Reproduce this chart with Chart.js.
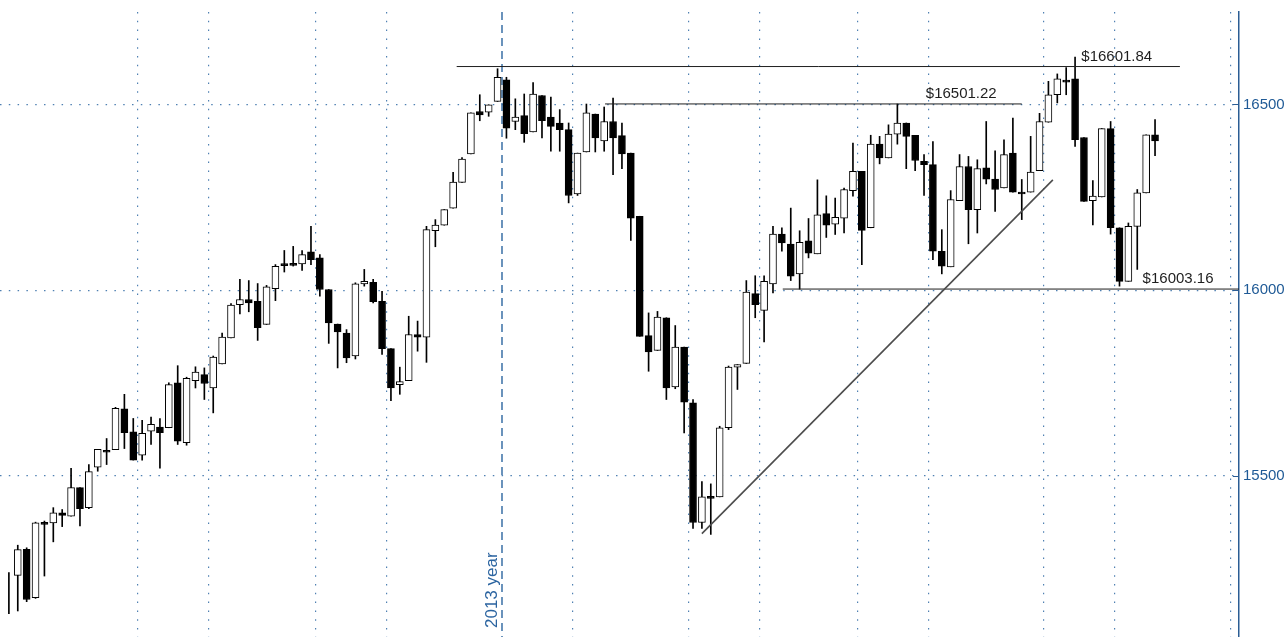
<!DOCTYPE html>
<html>
<head>
<meta charset="utf-8">
<title>Candles</title>
<script src="https://cdn.jsdelivr.net/npm/chart.js@4.4.1/dist/chart.umd.min.js"></script>
<style>
    html, body { margin: 0; padding: 0; background: #ffffff; }
    #chart_box { position: relative; width: 1287px; height: 637px; }
</style>
</head>
<body>
<div id="chart_box"><canvas id="candle_chart"></canvas></div>
<script>
// one candle per index, first one shows only its wick
const opens = [null,
    15233, 15303, 15173, 15374, 15374, 15401, 15392, 15469, 15415,
    15524, 15569, 15571, 15681, 15619, 15556, 15621, 15632, 15630, 15751,
    15590, 15757, 15773, 15737, 15802, 15872, 15961, 15975, 15970, 15908,
    16004, 16071, 16070, 16071, 16103, 16087, 16002, 15909, 15885, 15823,
    16017, 16021, 15970, 15843, 15746, 15757, 15881, 15874, 16160, 16175,
    16221, 16290, 16367, 16481, 16479, 16508, 16566, 16454, 16470, 16426,
    16524, 16466, 16450, 16432, 16259, 16372, 16474, 16402, 16454, 16416,
    16369, 16199, 15878, 15838, 15926, 15740, 15847, 15697, 15375, 15445,
    15444, 15630, 15793, 15803, 15991, 15946, 16017, 16151, 16124, 16044,
    16133, 16098, 16206, 16178, 16194, 16268, 16320, 16168, 16393, 16356,
    16420, 16450, 16417, 16347, 16338, 16105, 16063, 16241, 16333, 16217,
    16329, 16299, 16275, 16369, 16264, 16264, 16322, 16452, 16526, 16564,
    16569, 16411, 16241, 16251, 16435, 16168, 16024, 16172, 16262, 16418];
const highs = [15240,
    15314, 15307, 15376, 15379, 15415, 15410, 15521, 15469, 15531,
    15572, 15601, 15685, 15720, 15655, 15650, 15659, 15655, 15751, 15797,
    15766, 15794, 15791, 15823, 15885, 15964, 16029, 16026, 16018, 16013,
    16069, 16107, 16118, 16107, 16172, 16096, 16002, 15909, 15894, 16020,
    16056, 16029, 15997, 15843, 15793, 15930, 15917, 16172, 16190, 16217,
    16317, 16357, 16477, 16526, 16499, 16596, 16573, 16515, 16528, 16559,
    16524, 16520, 16486, 16450, 16369, 16501, 16474, 16493, 16517, 16450,
    16369, 16199, 15939, 15943, 15926, 15905, 15847, 15706, 15485, 15479,
    15634, 15796, 15800, 16026, 16039, 16039, 16172, 16168, 16221, 16160,
    16193, 16297, 16254, 16248, 16275, 16396, 16320, 16417, 16414, 16445,
    16501, 16450, 16417, 16365, 16400, 16163, 16268, 16365, 16360, 16351,
    16454, 16375, 16405, 16463, 16298, 16414, 16476, 16562, 16582, 16599,
    16627, 16411, 16295, 16435, 16454, 16168, 16181, 16271, 16418, 16459];
const lows = [15130,
    15137, 15162, 15171, 15231, 15323, 15364, 15392, 15366, 15412,
    15513, 15531, 15571, 15574, 15543, 15543, 15585, 15521, 15630, 15585,
    15583, 15737, 15706, 15670, 15802, 15872, 15936, 15942, 15865, 15908,
    15972, 16049, 16065, 16053, 16069, 15984, 15857, 15791, 15805, 15815,
    16011, 15966, 15827, 15703, 15720, 15757, 15836, 15806, 16117, 16175,
    16221, 16290, 16367, 16456, 16468, 16508, 16409, 16432, 16398, 16426,
    16410, 16374, 16374, 16235, 16255, 16372, 16372, 16374, 16311, 16327,
    16134, 15876, 15782, 15838, 15706, 15735, 15616, 15359, 15359, 15343,
    15444, 15625, 15733, 15803, 15926, 15861, 15993, 16105, 16026, 16003,
    16087, 16098, 16142, 16150, 16154, 16253, 16069, 16168, 16340, 16356,
    16393, 16327, 16322, 16255, 16082, 16044, 16063, 16241, 16125, 16154,
    16286, 16212, 16275, 16264, 16190, 16264, 16322, 16452, 16504, 16526,
    16387, 16239, 16176, 16251, 16151, 16011, 16024, 16056, 16262, 16362];
const closes = [null,
    15302, 15168, 15374, 15370, 15401, 15394, 15469, 15412, 15512,
    15572, 15564, 15682, 15617, 15543, 15615, 15639, 15617, 15746, 15594,
    15763, 15780, 15749, 15820, 15874, 15960, 15975, 15966, 15899, 16009,
    16064, 16066, 16067, 16096, 16082, 16002, 15912, 15888, 15818, 16017,
    16024, 15969, 15843, 15737, 15754, 15881, 15874, 16163, 16175, 16217,
    16291, 16353, 16477, 16472, 16499, 16573, 16436, 16466, 16421, 16528,
    16456, 16441, 16432, 16255, 16369, 16477, 16410, 16454, 16410, 16367,
    16194, 15876, 15834, 15928, 15737, 15847, 15699, 15375, 15444, 15440,
    15630, 15793, 15800, 15995, 15961, 16024, 16151, 16127, 16038, 16129,
    16100, 16203, 16175, 16196, 16271, 16320, 16161, 16393, 16356, 16420,
    16450, 16414, 16349, 16338, 16105, 16065, 16244, 16333, 16217, 16327,
    16299, 16271, 16365, 16264, 16259, 16318, 16454, 16526, 16569, 16560,
    16405, 16239, 16253, 16435, 16168, 16024, 16172, 16262, 16418, 16402];

const y_ticks = [15500, 16000, 16500];
const x_grid_at = [14.5, 22.5, 34.5, 42.5, 63.5, 76.5, 84.5, 95.5, 103.5, 116.5, 124.5, 137.5];
const year_break_at = 55.5;
const year_label = "2013 year";

const level_values = [16601.84, 16501.22, 16003.16];
const level_from = [50.4, 67.1, 87.1];
const level_to = [131.8, 114.0, 138.45];
const level_label_at = [120.7, 103.2, 127.6];

const trend_x = [78.0, 117.5];
const trend_y = [15345, 16297];

const axis_colour = "#2b5d94";
const grid_colour = "#4f80b2";

Chart.defaults.font.family = "'Liberation Sans', Arial, sans-serif";

let body_data = [];
let wick_data = [];
let body_colours = [];
for (let i = 0; i < highs.length; i++) {
    wick_data.push({x: i, y: [lows[i], highs[i]]});
    if (opens[i] === null) {
        body_data.push({x: i, y: null});
        body_colours.push("#ffffff");
    } else {
        body_data.push({x: i, y: [opens[i], closes[i]]});
        body_colours.push(closes[i] >= opens[i] ? "#ffffff" : "#000000");
    }
}

let datasets = [];
datasets.push({
    type: "line",
    data: trend_x.map((x, i) => ({x: x, y: trend_y[i]})),
    borderColor: "#4d4d4d",
    borderWidth: 1.6,
    pointRadius: 0
});
for (let i = 0; i < level_values.length; i++) {
    datasets.push({
        type: "line",
        data: [{x: level_from[i], y: level_values[i]}, {x: level_to[i], y: level_values[i]}],
        borderColor: "#1e1e1e",
        borderWidth: 1,
        pointRadius: 0
    });
}
datasets.push({
    type: "bar",
    data: body_data,
    backgroundColor: body_colours,
    borderColor: "#000000",
    borderWidth: 1,
    borderSkipped: false,
    barThickness: 7,
    minBarLength: 2,
    grouped: false
});
datasets.push({
    type: "bar",
    data: wick_data,
    backgroundColor: "#000000",
    borderWidth: 0,
    barThickness: 1,
    grouped: false
});

const overlay_plugin = {
    id: "overlay",
    beforeDatasetsDraw(chart) {
        const {ctx, chartArea, scales} = chart;
        let x_pixel = scales.x.getPixelForValue(year_break_at);
        ctx.save();
        ctx.strokeStyle = "#3a6fa6";
        ctx.lineWidth = 1.5;
        ctx.setLineDash([8, 5]);
        ctx.beginPath();
        ctx.moveTo(x_pixel, chartArea.top);
        ctx.lineTo(x_pixel, chartArea.bottom);
        ctx.stroke();
        ctx.setLineDash([]);
        ctx.translate(x_pixel - 5, chartArea.bottom - 9);
        ctx.rotate(-Math.PI / 2);
        ctx.fillStyle = "#2b64a0";
        ctx.font = "17px 'Liberation Sans', Arial, sans-serif";
        ctx.textAlign = "left";
        ctx.textBaseline = "alphabetic";
        ctx.fillText(year_label, 0, 0);
        ctx.restore();
    },
    afterDraw(chart) {
        const {ctx, chartArea, scales} = chart;
        ctx.save();
        ctx.fillStyle = "#1e1e1e";
        ctx.font = "15px 'Liberation Sans', Arial, sans-serif";
        ctx.textAlign = "left";
        ctx.textBaseline = "alphabetic";
        for (let i = 0; i < level_values.length; i++) {
            let x = scales.x.getPixelForValue(level_label_at[i]);
            let y = scales.y.getPixelForValue(level_values[i]);
            ctx.fillText("$" + level_values[i].toFixed(2), x, y - 6);
        }
        // tick marks point into the plot
        ctx.strokeStyle = axis_colour;
        ctx.lineWidth = 1;
        for (let value of y_ticks) {
            let y = Math.round(scales.y.getPixelForValue(value)) + 0.5;
            ctx.beginPath();
            ctx.moveTo(chartArea.right - 6, y);
            ctx.lineTo(chartArea.right, y);
            ctx.stroke();
        }
        ctx.restore();
    }
};

const chart_context = document.getElementById("candle_chart").getContext("2d");
var candle_chart = new Chart(chart_context, {
    type: "bar",
    data: {datasets: datasets},
    options: {
        responsive: true,
        maintainAspectRatio: false,
        animation: false,
        layout: {padding: {top: 12, left: 0, right: 0, bottom: 0}},
        plugins: {
            legend: {display: false},
            tooltip: {enabled: false}
        },
        scales: {
            x: {
                type: "linear",
                min: -1.0,
                max: 138.45,
                offset: false,
                afterBuildTicks: (scale) => {
                    scale.ticks = x_grid_at.map(v => ({value: v}));
                },
                afterFit: (scale) => {
                    scale.height = 0;
                    scale.paddingLeft = 0;
                    scale.paddingRight = 0;
                },
                ticks: {display: false},
                grid: {
                    offset: false,
                    color: grid_colour,
                    lineWidth: 1.2,
                    drawTicks: false
                },
                border: {display: false, dash: [1.5, 7.3]}
            },
            y: {
                type: "linear",
                position: "right",
                min: 15067,
                max: 16748.6,
                afterBuildTicks: (scale) => {
                    scale.ticks = y_ticks.map(v => ({value: v}));
                },
                afterFit: (scale) => {
                    scale.width = 48;
                    scale.paddingTop = 0;
                    scale.paddingBottom = 0;
                },
                ticks: {
                    color: "#1f5a96",
                    padding: 4,
                    font: {size: 15},
                    callback: (value) => String(value)
                },
                grid: {
                    color: grid_colour,
                    lineWidth: 1.2,
                    drawTicks: false
                },
                border: {display: true, color: axis_colour, width: 1.5, dash: [1.5, 7.3]}
            }
        }
    },
    plugins: [overlay_plugin]
});
</script>
</body>
</html>
